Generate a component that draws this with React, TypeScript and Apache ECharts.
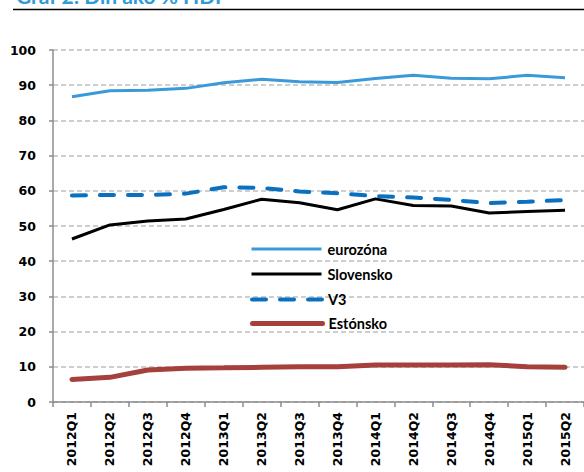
import React, { useEffect, useRef } from "react";
import * as echarts from "echarts";

const categories = [
  "2012Q1", "2012Q2", "2012Q3", "2012Q4",
  "2013Q1", "2013Q2", "2013Q3", "2013Q4",
  "2014Q1", "2014Q2", "2014Q3", "2014Q4",
  "2015Q1", "2015Q2",
];
const eurozona = [86.7, 88.4, 88.6, 89.1, 90.7, 91.7, 91.0, 90.8, 91.9, 92.8, 92.0, 91.8, 92.8, 92.1];
const slovensko = [46.3, 50.3, 51.4, 52.0, 54.7, 57.6, 56.6, 54.6, 57.7, 55.8, 55.7, 53.7, 54.1, 54.5];
const v3 = [58.7, 58.8, 58.8, 59.2, 61.0, 60.8, 59.8, 59.3, 58.5, 58.1, 57.4, 56.5, 56.9, 57.4];
const estonsko = [6.4, 7.0, 9.1, 9.6, 9.7, 9.85, 10.0, 10.0, 10.5, 10.5, 10.5, 10.6, 10.0, 9.9];
const yTicks = { min: 0, max: 100, interval: 10 };
const titleText = "Graf 2: Dlh ako % HDP";
const legendNames = ["eurozóna", "Slovensko", "V3", "Estónsko"];

export default function App() {
  const ref = useRef<HTMLDivElement>(null);
  useEffect(() => {
    if (!ref.current) return;
    const chart = echarts.init(ref.current, null, { renderer: "svg" });
    const font = "Lato, 'DejaVu Sans', sans-serif";
    const axisFont = "'DejaVu Sans', sans-serif";
    const legendLine = [
      { width: 3 },
      { width: 3 },
      { width: 4, type: [14, 14], cap: "round" },
      { width: 5, cap: "round" },
    ];
    const legendCenters = [247, 272, 297.5, 321.5];
    const legends = legendNames.map((name, i) => ({
      orient: "vertical",
      left: 250,
      top: legendCenters[i] - 6,
      itemWidth: 70,
      itemHeight: 20,
      itemGap: 0,
      padding: 0,
      itemStyle: { opacity: 0 },
      textStyle: { fontFamily: font, fontWeight: "bold", fontSize: 14.5, color: "#000", padding: [0, 0, 0, 1] },
      data: [{ name, lineStyle: legendLine[i] }],
    }));
    chart.setOption({
      animation: false,
      backgroundColor: "#ffffff",
      textStyle: { fontFamily: font },
      graphic: [
        {
          type: "text",
          left: 16,
          top: -15,
          style: { text: titleText, fill: "#2e9ad6", font: "bold 21px " + font },
        },
        {
          type: "line",
          shape: { x1: 13, y1: 9.5, x2: 584, y2: 9.5 },
          style: { stroke: "#000000", lineWidth: 1.5 },
        },
      ],
      grid: { left: 53, top: 50, width: 543, height: 352, containLabel: false },
      legend: legends,
      xAxis: {
        type: "category",
        data: categories,
        boundaryGap: true,
        axisLine: { lineStyle: { color: "#8c8c8c", width: 1.5 } },
        axisTick: { show: true, length: 5, lineStyle: { color: "#8c8c8c", width: 1.5 } },
        axisLabel: {
          rotate: 90,
          margin: 10,
          fontFamily: axisFont,
          fontWeight: "bold",
          fontSize: 12.5,
          color: "#000",
        },
      },
      yAxis: {
        type: "value",
        min: yTicks.min,
        max: yTicks.max,
        interval: yTicks.interval,
        axisLine: { show: true, lineStyle: { color: "#8c8c8c", width: 1.5 } },
        axisTick: { show: true, length: 4, lineStyle: { color: "#8c8c8c", width: 1.5 } },
        axisLabel: { margin: 17, fontFamily: axisFont, fontWeight: "bold", fontSize: 12.5, color: "#000" },
        splitLine: { lineStyle: { color: "#bfbfbf", width: 1.5, type: [5, 3] } },
      },
      series: [
        {
          name: "eurozóna",
          type: "line",
          data: eurozona,
          symbol: "none",
          lineStyle: { color: "#3a9ad9", width: 3 },
          itemStyle: { color: "#3a9ad9" },
          z: 3,
        },
        {
          name: "Slovensko",
          type: "line",
          data: slovensko,
          symbol: "none",
          lineStyle: { color: "#000000", width: 3 },
          itemStyle: { color: "#000000" },
          z: 3,
        },
        {
          name: "V3",
          type: "line",
          data: v3,
          symbol: "none",
          lineStyle: { color: "#0a70c0", width: 4, type: [14, 14], cap: "round" },
          itemStyle: { color: "#0a70c0" },
          z: 3,
        },
        {
          name: "Estónsko",
          type: "line",
          data: estonsko,
          symbol: "none",
          lineStyle: { color: "#a5403d", width: 5, cap: "round" },
          itemStyle: { color: "#a5403d" },
          z: 3,
        },
      ],
    });
    return () => chart.dispose();
  }, []);
  return (
    <div
      ref={ref}
      style={{ position: "fixed", left: 0, top: 0, width: 584, height: 472 }}
    />
  );
}
